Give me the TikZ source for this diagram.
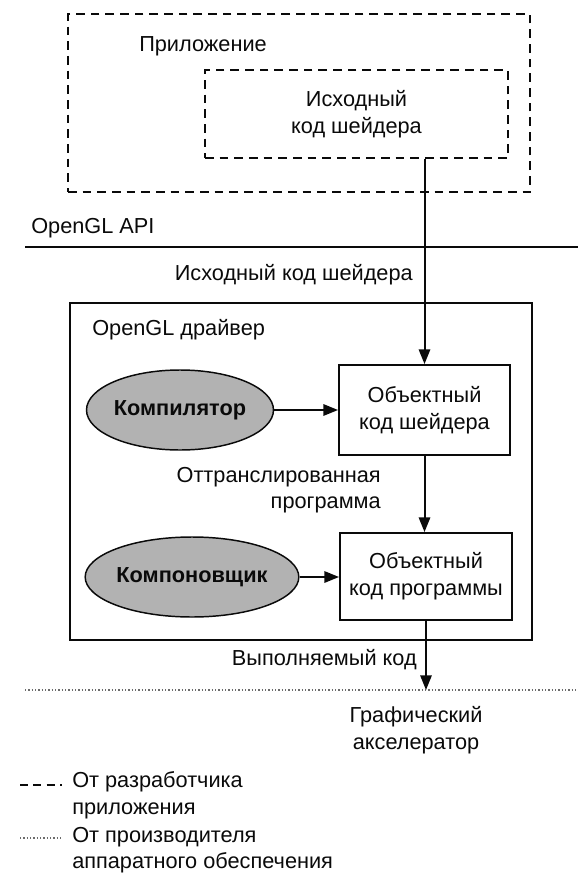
\documentclass[tikz,border=0pt]{standalone}
\usepackage{fontspec}
\setmainfont{Liberation Sans}
\usetikzlibrary{arrows.meta,positioning,shapes.geometric}
\definecolor{ink}{RGB}{10,10,10}
\definecolor{stipple}{RGB}{178,178,178}
\tikzset{
  >={Triangle[length=11pt,width=8.5pt]},
  txt/.style={font=\fontsize{16.3}{20}\selectfont,text=ink,inner sep=0pt},
  devbox/.style={draw=ink,line width=1.3pt,dash pattern=on 6.5pt off 4.5pt},
  objbox/.style={draw=ink,line width=1.4pt,align=center,txt},
  tool/.style={ellipse,draw=ink,line width=1.1pt,fill=stipple,
    font=\fontsize{16.3}{20}\selectfont\bfseries,text=ink},
  flow/.style={->,line width=1.5pt,draw=ink},
  hwline/.style={draw=ink!60,line width=0.8pt,dash pattern=on 1pt off 1.5pt},
}
\begin{document}
\begin{tikzpicture}[x=0.75pt,y=-0.75pt]
  \useasboundingbox (0,0) rectangle (578,881);
  % application
  \node[devbox,minimum width=346.5pt,minimum height=133.5pt] (app) at (299,103) {};
  \node[txt,anchor=west] (appname) at (139,46) {Приложение};
  \node[devbox,minimum width=227.25pt,minimum height=66pt,align=center,txt] (src) at (356.5,114)
    {Исходный\\код шейдера};
  % API
  \node[txt,anchor=west] (api) at (31,228) {OpenGL API};
  \coordinate (apiL) at (25,247);
  \coordinate (apiR) at (578,247);
  \draw[ink,line width=1.8pt] (apiL) -- (apiR);
  \node[txt,anchor=east] (srclbl) at (413,275) {Исходный код шейдера};
  % driver
  \node[draw=ink,line width=1.6pt,minimum width=346.5pt,minimum height=252.75pt] (drv) at (301,471.5) {};
  \node[txt,anchor=west] (drvname) at (92,330) {OpenGL драйвер};
  \node[objbox,minimum width=128.25pt,minimum height=67.5pt] (obj1) at (424.5,410)
    {Объектный\\код шейдера};
  \node[tool,minimum width=118.5pt,minimum height=60pt,inner sep=0pt] (comp) at (180,410) {Компилятор};
  \node[txt,anchor=east,align=right] (translbl) at (381,490) {Оттранслированная\\программа};
  \node[objbox,minimum width=129pt,minimum height=65.25pt] (obj2) at (426,576.5)
    {Объектный\\код программы};
  \node[tool,minimum width=132pt,minimum height=60pt,inner sep=0pt] (link) at (192,577) {Компоновщик};
  \node[txt,anchor=east] (execlbl) at (417,660) {Выполняемый код};
  % hardware
  \coordinate (hwL) at (25,690);
  \coordinate (hwR) at (578,690);
  \draw[hwline] (hwL) -- (hwR);
  \coordinate (hw) at (obj2.south |- hwL);
  \node[txt,align=center] (accel) at (416,730) {Графический\\акселератор};
  % connectors
  \draw[flow] (src.south -| obj1.north) -- (obj1.north);
  \draw[flow] (comp) -- (obj1);
  \draw[flow] (obj1.south) -- (obj1.south |- obj2.north);
  \draw[flow] (link) -- (obj2.west |- link);
  \draw[flow] (obj2.south) -- (hw);
  % legend
  \coordinate (devA) at (20,785);
  \coordinate (devB) at (62,785);
  \draw[ink,line width=1.2pt,dash pattern=on 6pt off 4pt] (devA) -- (devB);
  \node[txt,anchor=west,align=left] (devlbl) at (72,795) {От разработчика\\приложения};
  \coordinate (hwA) at (20,838);
  \coordinate (hwB) at (62,838);
  \draw[hwline] (hwA) -- (hwB);
  \node[txt,anchor=west,align=left] (hwlbl) at (72,850) {От производителя\\аппаратного обеспечения};
\end{tikzpicture}
\end{document}
